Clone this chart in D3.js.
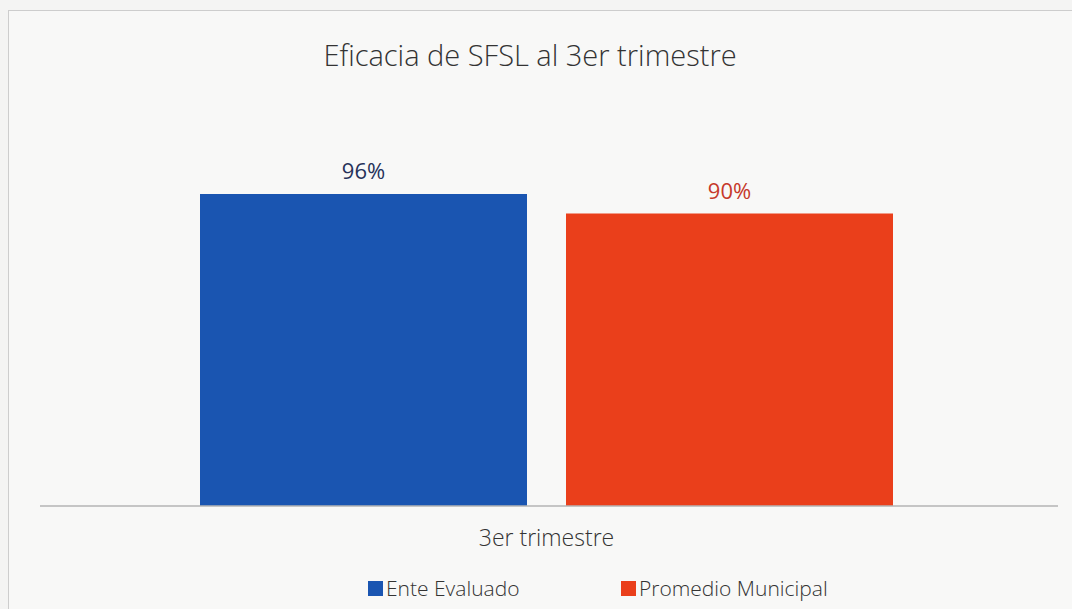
<!DOCTYPE html>
<html>
<head>
<meta charset="utf-8">
<script src="https://cdn.jsdelivr.net/npm/d3@7"></script>
<style>
  html, body { margin: 0; padding: 0; background: #f3f3f2; }
  svg { display: block; }
</style>
</head>
<body>
<div id="chart"></div>
<script>
// Data
const categories = ["3er trimestre"];
const seriesNames = ["Ente Evaluado", "Promedio Municipal"];
const seriesValues = [96, 90];
const valueLabels = ["96%", "90%"];
const titleText = "Eficacia de SFSL al 3er trimestre";

const width = 1072, height = 609;
const colorBlue = "#1a55b1";
const colorRed = "#ea3f1b";
const labelColors = ["#26325a", "#c6392a"];
const font = "'Open Sans', sans-serif";

const svg = d3.select("#chart").append("svg")
  .attr("width", width)
  .attr("height", height);

// paper background + chart frame
svg.append("rect").attr("width", width).attr("height", height).attr("fill", "#f4f4f3");
svg.append("rect")
  .attr("x", 8.5).attr("y", 10.5)
  .attr("width", width + 20).attr("height", height + 20)
  .attr("fill", "#f8f8f7")
  .attr("stroke", "#cdcdcd");

// title
svg.append("text")
  .attr("x", 530).attr("y", 66)
  .attr("text-anchor", "middle")
  .style("font-family", font).style("font-size", "29px").style("font-weight", 300)
  .style("fill", "#333")
  .text(titleText);

// scales
const x0 = d3.scaleBand().domain(categories).range([200, 893]);
const x1 = d3.scaleBand().domain(seriesNames).range([0, x0.bandwidth()])
  .paddingInner(0.1066).paddingOuter(0);
const y = d3.scaleLinear().domain([0, 100]).range([506, 181]);
const colors = d3.scaleOrdinal().domain(seriesNames).range([colorBlue, colorRed]);

const rows = seriesNames.map((s, i) => ({ s, v: seriesValues[i], label: valueLabels[i], i }));
const g = svg.append("g");

// bars
g.selectAll("rect.bar")
  .data(rows)
  .enter().append("rect")
  .attr("class", "bar")
  .attr("x", d => x0(categories[0]) + x1(d.s))
  .attr("y", d => y(d.v))
  .attr("width", x1.bandwidth())
  .attr("height", d => y(0) - y(d.v))
  .attr("fill", d => colors(d.s));

// value labels
g.selectAll("text.val")
  .data(rows)
  .enter().append("text")
  .attr("class", "val")
  .attr("x", d => x0(categories[0]) + x1(d.s) + x1.bandwidth() / 2)
  .attr("y", d => y(d.v) - 15)
  .attr("text-anchor", "middle")
  .style("font-family", font).style("font-size", "22px")
  .style("fill", d => labelColors[d.i])
  .text(d => d.label);

// baseline axis
const xAxis = d3.axisBottom(x0).tickSize(0).tickPadding(24);
const axisG = svg.append("g").attr("transform", `translate(0, ${y(0)})`).call(xAxis);
axisG.select(".domain").remove();
axisG.append("line")
  .attr("x1", 40).attr("x2", 1058)
  .attr("stroke", "#b5b5b5").attr("stroke-width", 1.3);
axisG.selectAll(".tick text")
  .style("font-family", font).style("font-size", "23px").style("font-weight", 300)
  .style("fill", "#333");

// legend
const legendX = [368, 621];
const legend = svg.append("g").attr("transform", "translate(0, 596)");
seriesNames.forEach((s, i) => {
  legend.append("rect")
    .attr("x", legendX[i]).attr("y", -15)
    .attr("width", 15).attr("height", 15)
    .attr("fill", colors(s));
  legend.append("text")
    .attr("x", legendX[i] + 18).attr("y", 0)
    .style("font-family", font).style("font-size", "21px").style("font-weight", 300)
    .style("fill", "#333")
    .text(s);
});
</script>
</body>
</html>
